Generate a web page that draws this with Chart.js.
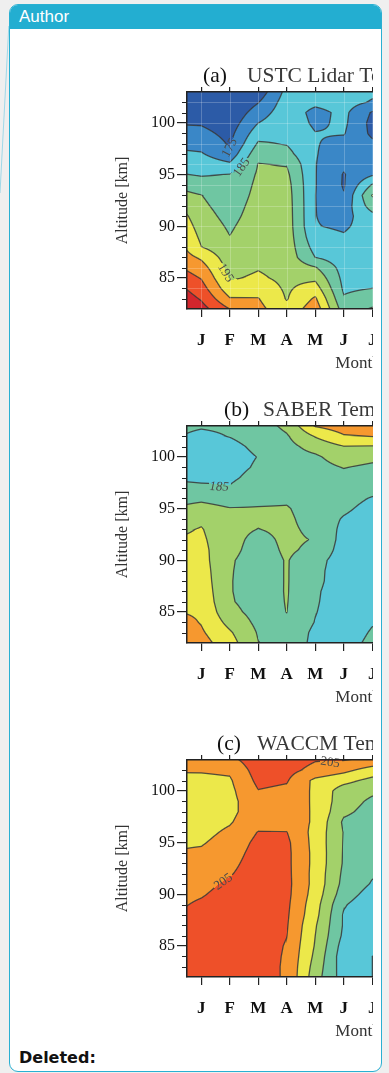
<!DOCTYPE html>
<html>
<head>
<meta charset="utf-8">
<title>Temperature contours</title>
<script src="https://cdn.jsdelivr.net/npm/chart.js@4.4.1/dist/chart.umd.min.js"></script>
<style>
  html, body { margin: 0; padding: 0; }
  body { width: 389px; height: 1073px; overflow: hidden; background: #efefef; position: relative; }
  #card { position: absolute; left: 9px; top: 4px; width: 373px; height: 1068px; box-sizing: border-box;
          border: 1.5px solid #29b0d2; border-radius: 9px; background: #fff; overflow: hidden; }
  #head { height: 24px; background: #23aed1; color: #fff; font: 17px "Liberation Sans", Arial, sans-serif;
          line-height: 24px; padding-left: 9px; }
  #plots { position: absolute; left: 10px; top: 0; width: 363px; height: 1073px; overflow: hidden; }
  #plots canvas { position: absolute; left: -10px; }
  #deleted { position: absolute; left: 19px; top: 1048px; font: bold 16px "DejaVu Sans", sans-serif;
             line-height: 19px; color: #111; }
  #link { position: absolute; left: 0; top: 0; }
</style>
</head>
<body>
<svg id="link" width="12" height="200"><line x1="8.8" y1="26" x2="0" y2="193" stroke="#9fd8e8" stroke-width="1"/></svg>
<div id="card"><div id="head">Author</div></div>
<div id="plots">
  <canvas id="panelA" width="560" height="330" style="top:50px"></canvas>
  <canvas id="panelB" width="560" height="330" style="top:384px"></canvas>
  <canvas id="panelC" width="560" height="330" style="top:718px"></canvas>
</div>
<div id="deleted">Deleted:</div>

<script>
// grid columns (month, 0.5 = left edge of Jan) and rows (altitude km, top to bottom)
const gridMonths = [0.5, 1, 2, 3, 4, 5, 6, 7, 8];
const gridAltitudes = [103, 102, 101, 100, 99, 98, 97, 96, 95, 94, 93, 92, 91, 90, 89, 88, 87, 86, 85, 84, 83, 82];

const monthTicks = [1, 2, 3, 4, 5, 6, 7, 8, 9, 10, 11, 12];
const monthLabels = ['J', 'F', 'M', 'A', 'M', 'J', 'J', 'A', 'S', 'O', 'N', 'D'];
const altitudeTicks = [85, 90, 95, 100];
const minorAltitudes = [83, 84, 86, 87, 88, 89, 91, 92, 93, 94, 96, 97, 98, 99, 101, 102];

const levels = [175, 180, 185, 190, 195, 200, 205, 210];
const levelColors = ['#2c5ba7', '#3a87c7', '#58c7d8', '#6fc6a2', '#a3d16a', '#ece84a', '#f6982f', '#ee5029', '#d3262d'];

// temperature [K], one array per grid month, values from 103 km down to 82 km
const lidarTemp = [
  [170, 171.5, 173, 174.6, 176.6, 178.7, 180.7, 182.9, 185.1, 188.3, 191.1, 193.3, 195.3, 196.6, 197.9, 199.3, 201.4, 204.2, 206.9, 209.7, 212, 214],
  [170, 171.5, 173, 174.5, 176.4, 178.4, 180.4, 182.5, 184.6, 187.2, 190.1, 191, 192, 193, 194, 195.1, 199.2, 202.1, 204.7, 207.1, 209.5, 212],
  [168, 169.5, 171, 172.3, 173.5, 174.5, 176.9, 180.8, 185.2, 186, 186.8, 187.6, 188.4, 189.3, 190.1, 191.2, 192.3, 193.4, 194.5, 196.8, 200.4, 205],
  [172, 174.8, 177.5, 180, 182.8, 185.6, 188.3, 190.2, 190.6, 191.1, 191.5, 192, 192.4, 192.9, 193.3, 193.8, 194.2, 194.7, 195.7, 197.8, 200.2, 201.5],
  [181.5, 182.5, 183, 183.6, 184.2, 184.7, 186.6, 189.7, 191, 191.8, 192.2, 192.4, 192.5, 192.6, 192.7, 192.8, 193, 193.4, 193.9, 194.3, 194.7, 196.3],
  [182.5, 181.2, 178.5, 179, 180.2, 180.3, 180.3, 180.2, 180.2, 180.2, 180.1, 180.1, 180.1, 180.2, 181.4, 183.1, 185, 190.4, 193.9, 197.3, 200.7, 203],
  [182.8, 182, 181.2, 181, 180.3, 178.5, 177.2, 175.8, 174.7, 174.6, 175.3, 177, 178.2, 179.4, 180.4, 181.3, 182.2, 183, 183.6, 184.2, 185.5, 187.5],
  [181, 179.5, 174.5, 173.5, 174, 176, 177.5, 179, 179.5, 185.5, 190.3, 187.5, 183.5, 182, 182, 182, 182.5, 183, 183.7, 185, 187.5, 190.5],
  [181, 179.5, 174.5, 173.5, 174, 176, 177.5, 179, 179.5, 185.5, 190.3, 187.5, 183.5, 182, 182, 182, 182.5, 183, 183.7, 185, 187.5, 190.5]
];

const saberTemp = [
  [185.5, 184.8, 183.5, 183, 183.2, 184.2, 186.2, 188.7, 190.9, 192.8, 194.6, 195.5, 196.1, 196.7, 197.3, 197.9, 198.5, 199.1, 199.7, 201.2, 202.5, 203.5],
  [185.3, 184.3, 183.2, 182.8, 183, 184, 185.9, 189, 191.7, 194.1, 195.3, 195.8, 196.3, 196.8, 197.3, 197.7, 198.2, 198.7, 199.2, 199.7, 200.7, 202],
  [185.5, 185.1, 184, 183.5, 183.7, 184.3, 185.3, 187.9, 190.2, 191.2, 191.5, 191.7, 191.5, 190.6, 190.4, 190.3, 190.3, 190.5, 191.5, 193.5, 195.6, 197],
  [187.5, 186.5, 185.8, 185.1, 185.5, 186.3, 187.5, 188.8, 190.3, 190.8, 189.9, 188.5, 187.8, 187.5, 187.5, 187.5, 187.6, 187.8, 188.2, 188.8, 189.6, 190.1],
  [191.2, 189.5, 188.5, 188, 187.8, 187.8, 188, 189.2, 190.4, 190.9, 191, 191, 190.8, 190.3, 190.3, 190.3, 190.3, 190.2, 190.05, 189.5, 189, 188.7],
  [200.3, 195.3, 191.8, 189.2, 188.2, 187.8, 187.6, 187.5, 187.6, 187.9, 188.8, 189.7, 188.8, 186.8, 186.4, 186.3, 185.7, 185.5, 185.2, 184.8, 183.8, 183.5],
  [202.5, 199.5, 194.8, 192.5, 190.2, 188.5, 187.5, 186.6, 185.8, 184.6, 183.8, 183.2, 182.8, 182.5, 182.3, 182.2, 182.2, 182.2, 182.3, 182.5, 182.8, 183.3],
  [202.8, 200.1, 194.6, 191.3, 189, 187.8, 186.5, 184.7, 183.5, 182.8, 182.2, 181.8, 181.5, 181.4, 181.5, 181.8, 182.3, 183, 183.8, 184.7, 185.4, 186],
  [202.8, 200.1, 194.6, 191.3, 189, 187.8, 186.5, 184.7, 183.5, 182.8, 182.2, 181.8, 181.5, 181.4, 181.5, 181.8, 182.3, 183, 183.8, 184.7, 185.4, 186]
];

const waccmTemp = [
  [201.5, 200.3, 199, 198.3, 198, 198, 198.3, 198.8, 199.5, 200.4, 201.5, 202.5, 203.3, 204.1, 204.9, 205.8, 206.5, 207, 207.5, 207.8, 208, 208],
  [201.5, 200.4, 198.8, 198, 197.7, 197.7, 198, 198.7, 199.6, 200.7, 201.8, 202.8, 203.7, 204.6, 205.7, 206.5, 207, 207.4, 207.7, 208, 208, 208],
  [203.5, 200.8, 199.4, 198.8, 198.6, 198.9, 199.6, 200.8, 201.8, 202.7, 203.6, 204.6, 205.8, 206.7, 207.3, 207.6, 207.8, 208, 208, 208, 208, 208],
  [208, 207.2, 206.2, 204.8, 203.3, 202.6, 203.2, 205.2, 206.3, 207, 207.5, 207.8, 208, 208, 208, 208, 208, 208, 207.8, 207.5, 207.3, 207],
  [207.5, 206.5, 205.4, 204, 202.8, 202.5, 203.3, 205.1, 206, 206.2, 206.2, 206.3, 206.4, 206.3, 206, 205.7, 205.4, 205.1, 204.6, 204.4, 204.3, 204.4],
  [205.3, 203.5, 198.8, 199, 199.3, 199.4, 199.2, 198.3, 198.3, 198.5, 198.5, 198.3, 198.3, 197.8, 197, 196.5, 195.5, 195, 194.6, 193.9, 193, 192.2],
  [205.2, 201.2, 196.5, 192.5, 192, 191, 189.2, 189.8, 189.7, 189.6, 189.5, 189, 188.5, 187.3, 185.5, 184.5, 184.5, 184, 182.8, 182, 182.3, 182.6],
  [203.5, 197.8, 193.5, 190.8, 189.2, 188.3, 187.6, 187.2, 187, 186.7, 186.3, 185.5, 184.6, 183, 181.5, 181, 181, 181, 180.5, 180, 180, 180],
  [203.5, 197.8, 193.5, 190.8, 189.2, 188.3, 187.6, 187.2, 187, 186.7, 186.3, 185.5, 184.6, 183, 181.5, 181, 181, 181, 180.5, 180, 180, 180]
];

// contour labels: month, altitude, text angle (deg)
const lidarLabels = [
  { month: 2.0, km: 97.6, angle: -62, text: '175' },
  { month: 2.42, km: 95.7, angle: -55, text: '185' },
  { month: 1.85, km: 85.5, angle: 58, text: '195' }
];
const saberLabels = [
  { month: 1.63, km: 97.1, angle: 2, text: '185', italic: true }
];
const waccmLabels = [
  { month: 1.78, km: 91.2, angle: -35, text: '205' },
  { month: 5.52, km: 102.75, angle: 8, text: '205' }
];

const bandRGB = levelColors.map(c => [1, 3, 5].map(k => parseInt(c.substr(k, 2), 16)));

function temperatureAt(grid, month, km) {
  let i = 0;
  while (i < gridMonths.length - 2 && month > gridMonths[i + 1]) i++;
  let fx = (month - gridMonths[i]) / (gridMonths[i + 1] - gridMonths[i]);
  fx = Math.min(1, Math.max(0, fx));
  let j = 0;
  while (j < gridAltitudes.length - 2 && km < gridAltitudes[j + 1]) j++;
  let fy = (gridAltitudes[j] - km) / (gridAltitudes[j] - gridAltitudes[j + 1]);
  fy = Math.min(1, Math.max(0, fy));
  const a = grid[i][j], b = grid[i + 1][j], c = grid[i][j + 1], d = grid[i + 1][j + 1];
  return (a * (1 - fx) + b * fx) * (1 - fy) + (c * (1 - fx) + d * fx) * fy;
}

const contourPlugin = {
  id: 'contour',
  beforeDraw(chart, args, opts) {
    const { ctx, chartArea } = chart;
    const xs = chart.scales.x, ys = chart.scales.y;
    const left = Math.round(chartArea.left), top = Math.round(chartArea.top);
    const w = Math.round(chartArea.right) - left, h = Math.round(chartArea.bottom) - top;

    const v = new Float32Array(w * h);
    for (let py = 0; py < h; py++) {
      const km = ys.getValueForPixel(top + py + 0.5);
      for (let px = 0; px < w; px++) {
        v[py * w + px] = temperatureAt(opts.grid, xs.getValueForPixel(left + px + 0.5), km);
      }
    }

    const marks = opts.labels.map(l => ({
      x: xs.getPixelForValue(l.month) - left,
      y: ys.getPixelForValue(l.km) - top,
      c: Math.cos(l.angle * Math.PI / 180),
      s: Math.sin(l.angle * Math.PI / 180)
    }));

    const off = document.createElement('canvas');
    off.width = w; off.height = h;
    const octx = off.getContext('2d');
    const img = octx.createImageData(w, h);
    for (let py = 0; py < h; py++) {
      for (let px = 0; px < w; px++) {
        const k = py * w + px;
        const t = v[k];
        let band = 0;
        while (band < levels.length && t >= levels[band]) band++;
        let [r, g, b] = bandRGB[band];

        const xl = Math.max(0, px - 1), xr = Math.min(w - 1, px + 1);
        const yu = Math.max(0, py - 1), yd = Math.min(h - 1, py + 1);
        const gx = (v[py * w + xr] - v[py * w + xl]) / (xr - xl);
        const gy = (v[yd * w + px] - v[yu * w + px]) / (yd - yu);
        const grad = Math.hypot(gx, gy);
        let nearest = levels[0];
        for (const L of levels) if (Math.abs(t - L) < Math.abs(t - nearest)) nearest = L;
        let a = 0;
        if (grad > 1e-4) a = Math.max(0, Math.min(1, 1.15 - Math.abs(t - nearest) / grad)) * 0.85;
        if (a > 0) {
          for (const m of marks) {
            const dx = px - m.x, dy = py - m.y;
            const u = dx * m.c + dy * m.s, n = -dx * m.s + dy * m.c;
            if (Math.abs(u) < 11 && Math.abs(n) < 6) { a = 0; break; }
          }
        }
        r = r * (1 - a) + 55 * a;
        g = g * (1 - a) + 55 * a;
        b = b * (1 - a) + 55 * a;
        img.data[k * 4] = r; img.data[k * 4 + 1] = g; img.data[k * 4 + 2] = b; img.data[k * 4 + 3] = 255;
      }
    }
    octx.putImageData(img, 0, 0);
    ctx.drawImage(off, left, top);

    ctx.save();
    if (opts.faintGrid) {
      ctx.strokeStyle = 'rgba(255,255,255,0.22)';
      ctx.lineWidth = 1;
      ctx.beginPath();
      for (const m of monthTicks) {
        const px = Math.round(xs.getPixelForValue(m)) + 0.5;
        ctx.moveTo(px, top); ctx.lineTo(px, top + h);
      }
      for (let km = 84; km <= 102; km += 2) {
        const py = Math.round(ys.getPixelForValue(km)) + 0.5;
        ctx.moveTo(left, py); ctx.lineTo(left + w, py);
      }
      ctx.stroke();
    }
    opts.labels.forEach((l, i) => {
      ctx.save();
      ctx.translate(marks[i].x + left, marks[i].y + top);
      ctx.rotate(l.angle * Math.PI / 180);
      ctx.font = (l.italic ? 'italic ' : '') + '13px "Liberation Serif"';
      ctx.fillStyle = '#4a4a4a';
      ctx.textAlign = 'center';
      ctx.textBaseline = 'middle';
      ctx.fillText(l.text, 0, 0);
      ctx.restore();
    });
    ctx.restore();
  }
};

const minorTickPlugin = {
  id: 'minorTicks',
  afterDraw(chart) {
    const { ctx, chartArea } = chart;
    const y = chart.scales.y;
    ctx.save();
    ctx.strokeStyle = '#222';
    ctx.lineWidth = 1.2;
    ctx.beginPath();
    for (const km of minorAltitudes) {
      const py = Math.round(y.getPixelForValue(km)) + 0.5;
      ctx.moveTo(chartArea.left - 5, py);
      ctx.lineTo(chartArea.left, py);
    }
    ctx.stroke();
    ctx.restore();
  }
};

const panelTitlePlugin = {
  id: 'panelTitle',
  afterDraw(chart, args, opts) {
    const { ctx, chartArea } = chart;
    ctx.save();
    ctx.font = '21.5px "Liberation Serif"';
    ctx.textBaseline = 'alphabetic';
    ctx.fillStyle = '#111';
    ctx.fillText(opts.tag, opts.tagX, chartArea.top - 10.5);
    ctx.fillStyle = '#383838';
    ctx.fillText(opts.name, opts.nameX, chartArea.top - 10.5);
    ctx.restore();
  }
};

function makePanel(id, grid, labels, tag, name, tagX, nameX, faintGrid) {
  const serif = 'Liberation Serif';
  return new Chart(document.getElementById(id), {
    type: 'scatter',
    data: { datasets: [] },
    options: {
      responsive: false,
      animation: false,
      devicePixelRatio: 1,
      layout: { padding: { left: 110, right: 31, top: 42, bottom: 0 } },
      plugins: {
        legend: { display: false },
        tooltip: { enabled: false },
        contour: { grid: grid, labels: labels, faintGrid: faintGrid },
        panelTitle: { tag: tag, name: name, tagX: tagX, nameX: nameX }
      },
      scales: {
        x: {
          type: 'linear', position: 'bottom', min: 0.5, max: 12.5,
          afterBuildTicks: s => { s.ticks = monthTicks.map(v => ({ value: v })); },
          afterFit: s => { s.height = 71; },
          ticks: {
            callback: v => monthLabels[v - 1],
            font: { family: serif, size: 17, weight: 'bold' },
            color: '#111', padding: 13, maxRotation: 0, autoSkip: false
          },
          grid: { drawOnChartArea: false, tickLength: 8, color: '#222', lineWidth: 1.2 },
          border: { display: true, color: '#222', width: 1.5 },
          title: { display: true, text: 'Month', font: { family: serif, size: 17 }, color: '#333', padding: { top: 0, bottom: 6 } }
        },
        xTop: {
          type: 'linear', position: 'top', axis: 'x', min: 0.5, max: 12.5,
          afterBuildTicks: s => { s.ticks = monthTicks.map(v => ({ value: v })); },
          afterFit: s => { s.height = 0; },
          ticks: { display: false },
          grid: { drawOnChartArea: false, tickLength: 5, color: '#222', lineWidth: 1.2 },
          border: { display: true, color: '#222', width: 1.5 }
        },
        y: {
          type: 'linear', position: 'left', min: 82, max: 103,
          afterBuildTicks: s => { s.ticks = altitudeTicks.map(v => ({ value: v })); },
          afterFit: s => { s.width = 77; },
          ticks: { font: { family: serif, size: 16 }, color: '#111', padding: 2 },
          grid: { drawOnChartArea: false, tickLength: 10, color: '#222', lineWidth: 1.2 },
          border: { display: true, color: '#222', width: 1.5 },
          title: { display: true, text: 'Altitude [km]', font: { family: serif, size: 16 }, color: '#333', padding: { top: 3, bottom: 0 } }
        }
      }
    },
    plugins: [contourPlugin, minorTickPlugin, panelTitlePlugin]
  });
}

makePanel('panelA', lidarTemp, lidarLabels, '(a)', 'USTC Lidar Temperature', 203, 247, true);
makePanel('panelB', saberTemp, saberLabels, '(b)', 'SABER Temperature', 224, 263, false);
makePanel('panelC', waccmTemp, waccmLabels, '(c)', 'WACCM Temperature', 217, 257, false);
</script>
</body>
</html>
